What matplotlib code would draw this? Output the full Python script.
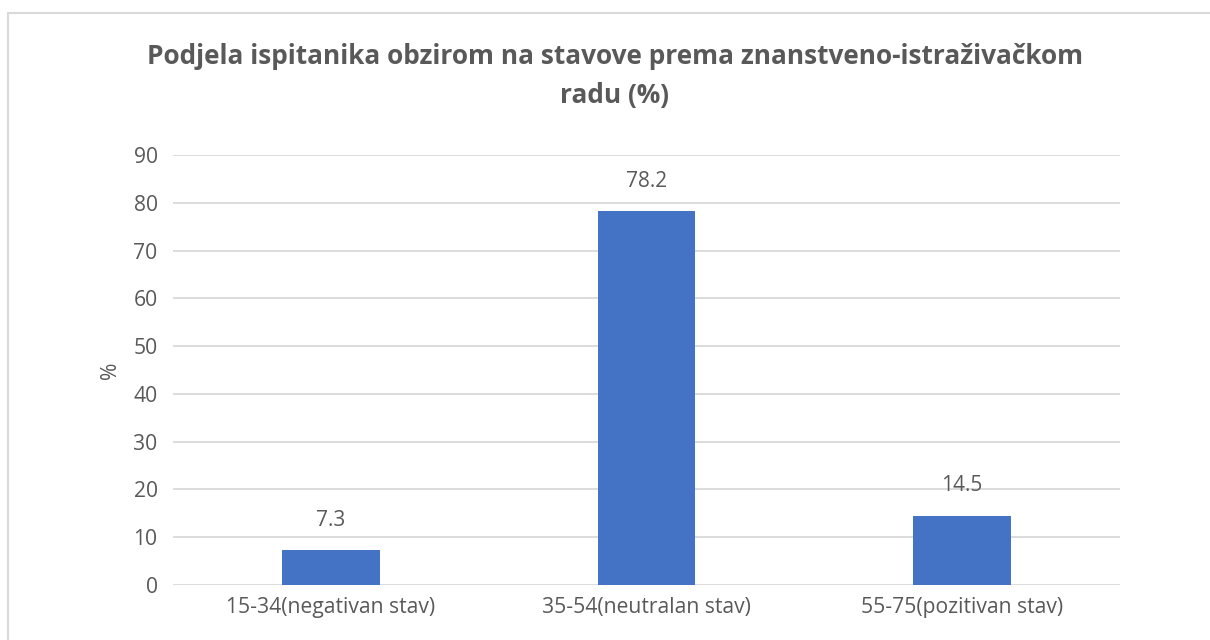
import matplotlib
matplotlib.use("Agg")
import matplotlib.pyplot as plt
from matplotlib.patches import Rectangle

plt.rcParams["font.family"] = ["Open Sans", "DejaVu Sans"]

categories = ["15-34(negativan stav)", "35-54(neutralan stav)", "55-75(pozitivan stav)"]
values = [7.3, 78.2, 14.5]
yticks = [0, 10, 20, 30, 40, 50, 60, 70, 80, 90]

TEXT = "#595959"
GRID = "#D9D9D9"
BAR = "#4472C4"

W, H = 1210, 640
fig = plt.figure(figsize=(W / 100, H / 100), dpi=100)
ax = fig.add_axes([173 / W, 1 - 585 / H, (1120 - 173) / W, (585 - 155) / H])

x = range(len(categories))
ax.bar(x, values, width=0.31, color=BAR, zorder=3)
for xi, v in zip(x, values):
    ax.annotate(f"{v}", (xi, v), xytext=(0, 14), textcoords="offset points",
                ha="center", va="bottom", fontsize=15, color=TEXT)

ax.set_xlim(-0.5, len(categories) - 0.5)
ax.set_ylim(0, 90)
ax.set_yticks(yticks)
ax.set_xticks(list(x))
ax.set_xticklabels(categories)
ax.tick_params(axis="both", length=0, labelsize=15.2, colors=TEXT)
ax.tick_params(axis="y", pad=11)
ax.tick_params(axis="x", pad=9)
ax.grid(axis="y", color=GRID, lw=1.3, zorder=0)
for s in ax.spines.values():
    s.set_visible(False)
ax.set_ylabel("%", fontsize=15.2, color=TEXT, labelpad=9)

fig.text(615 / W, 1 - 76 / H,
         "Podjela ispitanika obzirom na stavove prema znanstveno-istraživačkom\nradu (%)",
         ha="center", va="center", fontsize=18.9, fontweight="bold", color=TEXT,
         linespacing=1.55)

# chart frame (right and bottom edges fall outside the image)
fig.patches.append(Rectangle((8 / W, -0.1), 1.2, 1 - 13 / H + 0.1, transform=fig.transFigure,
                             fill=False, edgecolor=GRID, lw=1.5))

fig.savefig("out.png", dpi=100, facecolor="white")
